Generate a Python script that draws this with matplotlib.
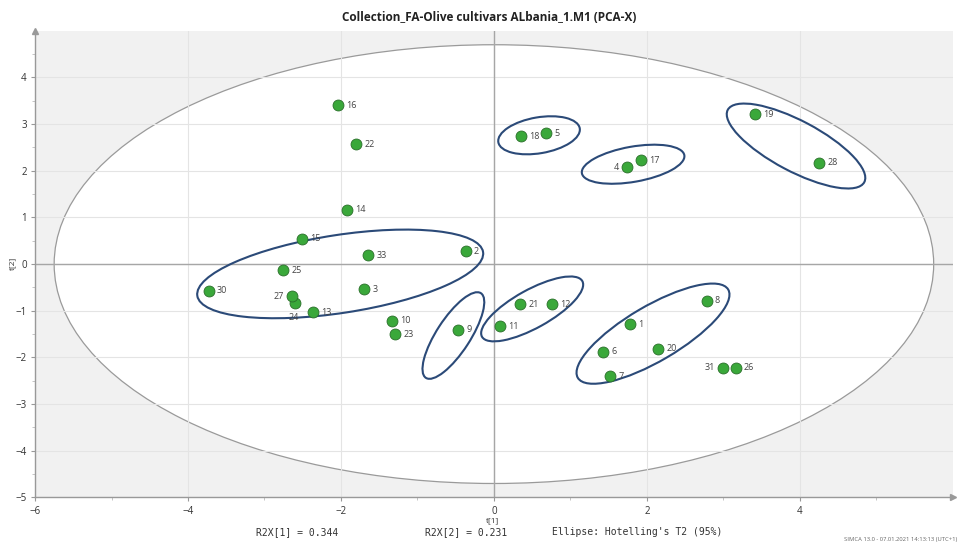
import matplotlib
matplotlib.use("Agg")
import matplotlib.pyplot as plt
from matplotlib.patches import Ellipse
from matplotlib.transforms import Affine2D
import numpy as np

# PCA score values t[1], t[2] for each olive cultivar
sample_ids = [1, 2, 3, 4, 5, 6, 7, 8, 9, 10, 11, 12, 13, 14, 15, 16, 17, 18, 19,
              20, 21, 22, 23, 24, 25, 26, 27, 28, 30, 31, 33]
t1 = [1.78, -0.37, -1.70, 1.74, 0.68, 1.43, 1.52, 2.78, -0.47, -1.33, 0.08, 0.76,
      -2.37, -1.92, -2.51, -2.04, 1.92, 0.35, 3.41, 2.15, 0.34, -1.80, -1.29,
      -2.60, -2.76, 3.16, -2.64, 4.25, -3.73, 3.00, -1.64]
t2 = [-1.29, 0.28, -0.54, 2.08, 2.80, -1.88, -2.40, -0.79, -1.41, -1.21, -1.33,
      -0.86, -1.03, 1.16, 0.54, 3.40, 2.23, 2.74, 3.21, -1.81, -0.86, 2.57, -1.50,
      -0.84, -0.13, -2.22, -0.69, 2.17, -0.57, -2.22, 0.19]

# Hotelling's T2 (95%) ellipse semi-axes
t2_ellipse_a = 5.75
t2_ellipse_b = 4.70

# Cluster outlines: centre (t1, t2), semi-axes (in t1 units), rotation (deg)
cluster_centers = [(-2.01, -0.21), (-0.53, -1.53), (0.50, -0.96), (2.08, -1.49),
                   (0.59, 2.76), (1.82, 2.14), (3.95, 2.53)]
cluster_axes = [(1.89, 0.51), (0.66, 0.22), (0.75, 0.25), (1.14, 0.36),
                (0.54, 0.235), (0.68, 0.23), (1.01, 0.33)]
cluster_angles = [8.7, 57, 29, 30.4, 9.7, 10, -27.9]

left_labels = {4, 27, 31}
below_labels = {24}

xticks = [-6, -4, -2, 0, 2, 4]
yticks = [-5, -4, -3, -2, -1, 0, 1, 2, 3, 4]

plt.rcParams['font.family'] = ['Open Sans', 'DejaVu Sans']

fig = plt.figure(figsize=(9.6, 5.44), dpi=100)
fig.patch.set_facecolor('white')
ax = fig.add_axes([0.0365, 0.0855, 0.956, 0.858])
ax.set_xlim(-6, 6)
ax.set_ylim(-5, 5)
ax.set_facecolor('#f1f1f1')

# Hotelling ellipse: white inside, grey outside
ax.add_patch(Ellipse((0, 0), 2 * t2_ellipse_a, 2 * t2_ellipse_b, facecolor='white',
                     edgecolor='#9a9a9a', lw=0.9, zorder=0.2))

ax.set_axisbelow(True)
ax.set_xticks(xticks)
ax.set_yticks(yticks)
ax.set_xticks(np.arange(-5, 6, 2), minor=True)
ax.set_yticks(np.arange(-4.5, 5, 1), minor=True)
ax.grid(True, which='major', color='#e4e4e4', lw=0.8)
ax.tick_params(which='major', direction='out', length=3, width=0.8, color='#999999',
               labelsize=7, labelcolor='#333333', pad=3)
ax.tick_params(which='minor', direction='out', length=2, width=0.6, color='#bbbbbb')

for side in ('top', 'right'):
    ax.spines[side].set_visible(False)
for side in ('left', 'bottom'):
    ax.spines[side].set_color('#999999')
    ax.spines[side].set_linewidth(1.0)
ax.plot(1.0, 0, marker='>', color='#999999', ms=5, transform=ax.transAxes, clip_on=False)
ax.plot(0, 1.0, marker='^', color='#999999', ms=5, transform=ax.transAxes, clip_on=False)

# zero lines
ax.axhline(0, color='#a6a6a6', lw=1.0, zorder=0.6)
ax.axvline(0, color='#a6a6a6', lw=1.0, zorder=0.6)

# cluster outlines drawn in a space with equal on-screen units
fig_w, fig_h = fig.get_size_inches() * fig.dpi
pos = ax.get_position()
k = (pos.height * fig_h / 10.0) / (pos.width * fig_w / 12.0)
iso = Affine2D().scale(1.0, 1.0 / k) + ax.transData
for (cx, cy), (a, b), ang in zip(cluster_centers, cluster_axes, cluster_angles):
    ax.add_patch(Ellipse((cx, cy * k), 2 * a, 2 * b, angle=ang, facecolor='none',
                         edgecolor='#2b4a78', lw=1.5, transform=iso, zorder=2))

ax.scatter(t1, t2, s=62, color='#3aa83a', edgecolors='#2a6e2a', linewidths=0.6, zorder=3)

for sid, x, y in zip(sample_ids, t1, t2):
    if sid in left_labels:
        ax.annotate(str(sid), (x, y), xytext=(-6, 0), textcoords='offset points',
                    ha='right', va='center', fontsize=6.5, color='#444444', zorder=4)
    elif sid in below_labels:
        ax.annotate(str(sid), (x, y), xytext=(-1, -7), textcoords='offset points',
                    ha='center', va='top', fontsize=6.5, color='#444444', zorder=4)
    else:
        ax.annotate(str(sid), (x, y), xytext=(6, 0), textcoords='offset points',
                    ha='left', va='center', fontsize=6.5, color='#444444', zorder=4)

fig.text(0.51, 0.967, 'Collection_FA-Olive cultivars ALbania_1.M1 (PCA-X)', ha='center',
         va='center', fontsize=8.5, fontweight='bold', color='#222222')
fig.text(0.013, 0.515, 't[2]', rotation=90, ha='center', va='center', fontsize=6,
         color='#333333')
fig.text(0.513, 0.042, 't[1]', ha='center', va='center', fontsize=6, color='#333333')

mono = ['DejaVu Sans Mono']
fig.text(0.31, 0.022, 'R2X[1] = 0.344', ha='center', va='center', fontsize=7,
         family=mono, color='#333333')
fig.text(0.486, 0.022, 'R2X[2] = 0.231', ha='center', va='center', fontsize=7,
         family=mono, color='#333333')
fig.text(0.664, 0.022, "Ellipse: Hotelling's T2 (95%)", ha='center', va='center',
         fontsize=7, family=mono, color='#333333')
fig.text(0.997, 0.008, 'SIMCA 13.0 - 07.01.2021 14:13:13 (UTC+1)', ha='right',
         va='center', fontsize=4.2, color='#666666')

fig.savefig('out.png', dpi=100, facecolor='white')
